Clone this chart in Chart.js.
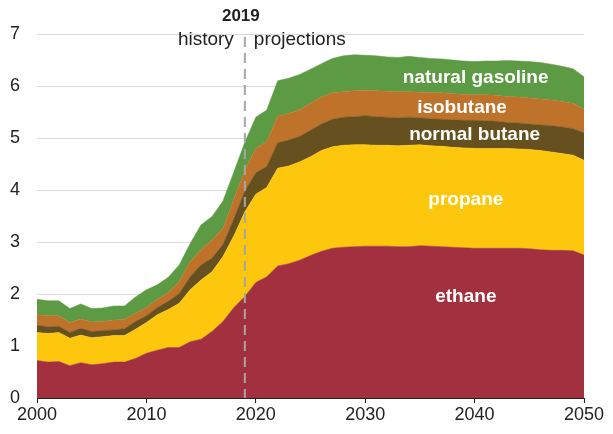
<!DOCTYPE html>
<html>
<head>
<meta charset="utf-8">
<script src="https://cdn.jsdelivr.net/npm/chart.js@4/dist/chart.umd.min.js"></script>
<style>
  html, body { margin: 0; padding: 0; background: #fff; }
  #wrap { width: 613px; height: 434px; position: relative; }
</style>
</head>
<body>
<div id="wrap"><canvas id="c" width="613" height="434"></canvas></div>
<script>
const years = [];
for (let y = 2000; y <= 2050; y++) years.push(y);

const ethane = [0.72,0.69,0.70,0.62,0.68,0.64,0.66,0.69,0.69,0.76,
  0.86,0.92,0.97,0.97,1.08,1.13,1.28,1.47,1.74,1.95,
  2.22,2.33,2.54,2.58,2.65,2.74,2.82,2.88,2.90,2.91,
  2.92,2.92,2.92,2.91,2.91,2.93,2.92,2.91,2.90,2.89,
  2.88,2.88,2.88,2.88,2.88,2.87,2.85,2.84,2.84,2.83,2.75];
const propane = [0.54,0.55,0.56,0.53,0.53,0.52,0.52,0.51,0.51,0.56,
  0.59,0.68,0.73,0.85,1.00,1.14,1.15,1.25,1.38,1.63,
  1.70,1.72,1.88,1.88,1.89,1.90,1.94,1.95,1.96,1.96,
  1.95,1.94,1.94,1.94,1.95,1.94,1.93,1.93,1.92,1.92,
  1.92,1.92,1.92,1.92,1.91,1.91,1.91,1.89,1.86,1.84,1.82];
const normalButane = [0.14,0.13,0.12,0.11,0.13,0.12,0.12,0.11,0.13,0.15,
  0.13,0.14,0.16,0.19,0.25,0.29,0.26,0.23,0.33,0.40,
  0.41,0.40,0.49,0.50,0.49,0.51,0.51,0.53,0.54,0.54,
  0.56,0.55,0.54,0.54,0.54,0.52,0.52,0.52,0.53,0.53,
  0.54,0.53,0.52,0.50,0.50,0.49,0.49,0.51,0.51,0.51,0.53];
const isobutane = [0.20,0.21,0.20,0.19,0.18,0.18,0.17,0.19,0.18,0.16,
  0.16,0.16,0.17,0.23,0.29,0.29,0.35,0.31,0.37,0.40,
  0.47,0.48,0.51,0.51,0.51,0.52,0.52,0.51,0.49,0.50,
  0.49,0.50,0.50,0.50,0.49,0.49,0.50,0.51,0.50,0.50,
  0.49,0.50,0.50,0.50,0.50,0.50,0.50,0.49,0.49,0.49,0.46];
const naturalGasoline = [0.30,0.29,0.29,0.27,0.29,0.26,0.26,0.27,0.26,0.31,
  0.34,0.28,0.29,0.32,0.35,0.48,0.45,0.53,0.53,0.54,
  0.60,0.61,0.68,0.68,0.68,0.65,0.64,0.66,0.69,0.69,
  0.67,0.67,0.66,0.66,0.68,0.67,0.66,0.65,0.65,0.64,
  0.64,0.65,0.66,0.69,0.69,0.70,0.70,0.69,0.68,0.66,0.62];

const seriesNames = ["ethane","propane","normal butane","isobutane","natural gasoline"];
const seriesValues = [ethane, propane, normalButane, isobutane, naturalGasoline];
const seriesColors = ["#A3303F","#FDC70E","#66501F","#BF732A","#5C9A44"];
const yTicks = [0,1,2,3,4,5,6,7];
const xTicks = [2000,2010,2020,2030,2040,2050];

const FONT = "'Liberation Sans', Arial, sans-serif";

const datasets = seriesNames.map((name, i) => ({
  label: name,
  data: years.map((yr, j) => ({ x: yr, y: seriesValues[i][j] })),
  backgroundColor: seriesColors[i],
  borderColor: seriesColors[i],
  borderWidth: 0.5,
  pointRadius: 0,
  tension: 0,
  fill: i === 0 ? 'origin' : '-1'
}));

// label placements (data coordinates)
const areaLabels = [
  { text: "natural gasoline", x: 2040.1, y: 6.15 },
  { text: "isobutane", x: 2038.85, y: 5.59 },
  { text: "normal butane", x: 2040.0, y: 5.07 },
  { text: "propane", x: 2039.2, y: 3.81 },
  { text: "ethane", x: 2039.2, y: 1.94 }
];
const dividerYear = 2019;

const annot = {
  id: 'annot',
  afterDatasetsDraw(chart) {
    const ctx = chart.ctx;
    const xs = chart.scales.x, ys = chart.scales.y;
    const area = chart.chartArea;
    const xd = xs.getPixelForValue(dividerYear);
    ctx.save();
    // dashed divider
    ctx.strokeStyle = '#a6a6a6';
    ctx.lineWidth = 2;
    ctx.setLineDash([10, 6]);
    ctx.beginPath();
    ctx.moveTo(xd, area.top + 3);
    ctx.lineTo(xd, area.bottom);
    ctx.stroke();
    ctx.setLineDash([]);
    // header texts
    ctx.fillStyle = '#222';
    ctx.textBaseline = 'middle';
    ctx.font = 'bold 17px ' + FONT;
    ctx.textAlign = 'center';
    ctx.fillText(String(dividerYear), xd - 4, 16);
    ctx.font = '19px ' + FONT;
    ctx.textAlign = 'right';
    ctx.fillText('history', xd - 11, 40);
    ctx.textAlign = 'left';
    ctx.fillText('projections', xd + 9, 40);
    // area labels
    ctx.fillStyle = '#ffffff';
    ctx.font = 'bold 19px ' + FONT;
    ctx.textAlign = 'center';
    areaLabels.forEach(l => {
      ctx.fillText(l.text, xs.getPixelForValue(l.x), ys.getPixelForValue(l.y));
    });
    ctx.restore();
  }
};

new Chart(document.getElementById('c'), {
  type: 'line',
  data: { datasets },
  plugins: [annot],
  options: {
    responsive: false,
    animation: false,
    devicePixelRatio: 1,
    layout: { padding: { top: 34, right: 29, left: 0, bottom: 0 } },
    plugins: { legend: { display: false }, tooltip: { enabled: false } },
    elements: { line: { borderJoinStyle: 'round' } },
    scales: {
      x: {
        type: 'linear',
        min: 2000, max: 2050,
        afterBuildTicks(scale) { scale.ticks = xTicks.map(v => ({ value: v })); },
        afterFit(scale) { scale.height = 36; },
        ticks: {
          color: '#222',
          font: { family: FONT, size: 18 },
          padding: 1,
          maxRotation: 0,
          callback: v => String(v)
        },
        grid: {
          drawOnChartArea: false,
          drawTicks: true,
          tickLength: 5,
          tickColor: '#222',
          lineWidth: 1
        },
        border: { display: true, color: '#222', width: 1 }
      },
      y: {
        stacked: true,
        min: 0, max: 7,
        afterBuildTicks(scale) { scale.ticks = yTicks.map(v => ({ value: v })); },
        afterFit(scale) { scale.width = 37; },
        ticks: {
          color: '#222',
          font: { family: FONT, size: 18 },
          padding: 17
        },
        grid: {
          color: '#d9d9d9',
          lineWidth: 1,
          drawTicks: false
        },
        border: { display: false }
      }
    }
  }
});
</script>
</body>
</html>
